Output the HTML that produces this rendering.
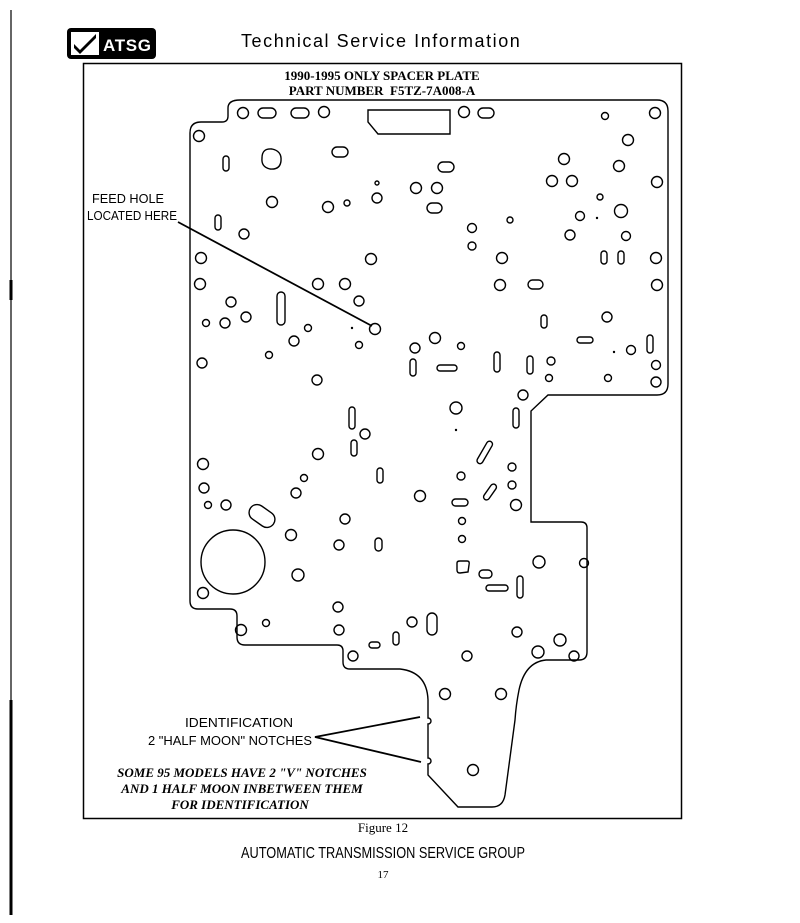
<!DOCTYPE html>
<html><head><style>
html,body{margin:0;padding:0;background:#fff;}
svg{display:block}
</style></head><body>
<svg width="800" height="923" viewBox="0 0 800 923" xmlns="http://www.w3.org/2000/svg">
<rect width="800" height="923" fill="#fff"/>
<line x1="11" y1="10" x2="11" y2="915" stroke="#000" stroke-width="1.2"/>
<line x1="11" y1="700" x2="11" y2="915" stroke="#000" stroke-width="3"/>
<line x1="11" y1="280" x2="11" y2="300" stroke="#000" stroke-width="3"/>
<!-- logo -->
<rect x="67" y="28" width="89" height="31" rx="4" fill="#000"/>
<rect x="71" y="32" width="28" height="23" fill="#fff"/>
<path d="M74 44 L80 50 L96 34 L96 38 L80 54 L74 48 Z" fill="#000"/>
<text x="103" y="51" font-family="Liberation Sans, sans-serif" font-weight="bold" font-size="17" fill="#fff" textLength="48">ATSG</text>
<text x="241" y="47" font-family="Liberation Sans, sans-serif" font-size="18" letter-spacing="1.2" fill="#000" textLength="280">Technical Service Information</text>
<!-- frame -->
<rect x="83.5" y="63.5" width="598" height="755" fill="none" stroke="#000" stroke-width="1.5"/>
<g font-family="Liberation Serif, serif" font-weight="bold" font-size="13" text-anchor="middle">
<text x="382" y="80">1990-1995 ONLY SPACER PLATE</text>
<text x="382" y="95">PART NUMBER&#160; F5TZ-7A008-A</text>
</g>
<!-- plate outline -->
<path d="M240 100 L657 100 Q668 100 668 111 L668 384 Q668 395 657 395 L548 395 L531 411 L531 522 L581 522 Q587 522 587 528 L587 652 Q587 660 579 660 L546 660 Q525 662 519 690 Q516 705 515 720 L505 795 Q503 807 492 807 L458 807 L428 775 L428 764 A3 3 0 0 0 428 758 L428 724 A3 3 0 0 0 428 718 L428 700 Q427 672 400 669 L350 669 Q343 669 343 662 L343 651 Q343 645 337 645 L245 645 Q237 645 237 637 L237 616 Q237 609 230 609 L198 609 Q190 609 190 601 L190 133 Q190 122 201 122 L222 122 Q228 122 228 116 L228 108 Q228 100 240 100 Z" fill="none" stroke="#000" stroke-width="1.4"/>
<g fill="none" stroke="#000" stroke-width="1.4">
<!-- top row -->
<circle cx="243" cy="113" r="5.5"/><rect x="258" y="108" width="18" height="10" rx="5"/><rect x="291" y="108" width="18" height="10" rx="5"/><circle cx="324" cy="112" r="5.5"/>
<path d="M368 110 L450 110 L450 134 L378 134 L368 122 Z"/>
<circle cx="464" cy="112" r="5.5"/><rect x="478" y="108" width="16" height="10" rx="5"/>
<circle cx="605" cy="116" r="3.5"/><circle cx="655" cy="113" r="5.5"/>
<circle cx="199" cy="136" r="5.5"/><circle cx="628" cy="140" r="5.5"/>
<rect x="223" y="156" width="6" height="15" rx="3"/>
<path d="M262 158 Q262 148 272 149 Q282 151 281 161 Q280 170 270 169 Q261 167 262 158 Z"/>
<rect x="332" y="147" width="16" height="10" rx="5"/><rect x="438" y="162" width="16" height="10" rx="5"/>
<circle cx="564" cy="159" r="5.5"/><circle cx="619" cy="166" r="5.5"/><circle cx="657" cy="182" r="5.5"/>
<circle cx="552" cy="181" r="5.5"/><circle cx="572" cy="181" r="5.5"/>
<circle cx="377" cy="183" r="2"/><circle cx="416" cy="188" r="5.5"/><circle cx="437" cy="188" r="5.5"/>
<circle cx="377" cy="198" r="5"/><circle cx="272" cy="202" r="5.5"/><circle cx="328" cy="207" r="5.5"/><circle cx="347" cy="203" r="3"/>
<rect x="427" y="203" width="15" height="10" rx="5"/><circle cx="600" cy="197" r="3"/>
<circle cx="580" cy="216" r="4.5"/><circle cx="621" cy="211" r="6.5"/><circle cx="510" cy="220" r="3"/>
<rect x="215" y="215" width="6" height="15" rx="3"/><circle cx="244" cy="234" r="5"/>
<circle cx="472" cy="228" r="4.5"/><circle cx="570" cy="235" r="5"/><circle cx="626" cy="236" r="4.5"/><circle cx="472" cy="246" r="4"/>
<circle cx="201" cy="258" r="5.5"/><circle cx="371" cy="259" r="5.5"/><circle cx="502" cy="258" r="5.5"/>
<rect x="601" y="251" width="6" height="13" rx="3"/><rect x="618" y="251" width="6" height="13" rx="3"/><circle cx="656" cy="258" r="5.5"/>
<circle cx="200" cy="284" r="5.5"/><circle cx="318" cy="284" r="5.5"/><circle cx="345" cy="284" r="5.5"/><circle cx="500" cy="285" r="5.5"/>
<rect x="528" y="280" width="15" height="9" rx="4.5"/><circle cx="657" cy="285" r="5.5"/>
<rect x="277" y="292" width="8" height="33" rx="4"/>
<circle cx="231" cy="302" r="5"/><circle cx="359" cy="301" r="5"/><circle cx="246" cy="317" r="5"/>
<circle cx="206" cy="323" r="3.5"/><circle cx="225" cy="323" r="5"/><circle cx="308" cy="328" r="3.5"/>
<circle cx="375" cy="329" r="5.5"/><rect x="541" y="315" width="6" height="13" rx="3"/><circle cx="607" cy="317" r="5"/>
<circle cx="435" cy="338" r="5.5"/><circle cx="294" cy="341" r="5"/><circle cx="359" cy="345" r="3.5"/><circle cx="415" cy="348" r="5"/>
<circle cx="461" cy="346" r="3.5"/><rect x="577" y="337" width="16" height="6" rx="3"/><rect x="647" y="335" width="6" height="18" rx="3"/><circle cx="631" cy="350" r="4.5"/>
<circle cx="269" cy="355" r="3.5"/><circle cx="202" cy="363" r="5"/>
<rect x="410" y="359" width="6" height="17" rx="3"/><rect x="437" y="365" width="20" height="6" rx="3"/>
<rect x="494" y="352" width="6" height="20" rx="3"/><rect x="527" y="356" width="6" height="18" rx="3"/>
<circle cx="551" cy="361" r="4"/><circle cx="656" cy="365" r="4.5"/>
<circle cx="317" cy="380" r="5"/><circle cx="549" cy="378" r="3.5"/><circle cx="608" cy="378" r="3.5"/><circle cx="656" cy="382" r="5"/>
<circle cx="523" cy="395" r="5"/><circle cx="456" cy="408" r="6"/>
<rect x="349" y="407" width="6" height="22" rx="3"/><circle cx="365" cy="434" r="5"/><rect x="513" y="408" width="6" height="20" rx="3"/>
<rect x="351" y="440" width="6" height="16" rx="3"/><circle cx="318" cy="454" r="5.5"/>
<rect x="482" y="440" width="6" height="25" rx="3" transform="rotate(30 485 452)"/>
<circle cx="203" cy="464" r="5.5"/><rect x="377" y="468" width="6" height="15" rx="3"/><circle cx="461" cy="476" r="4"/><circle cx="512" cy="467" r="4"/>
<circle cx="304" cy="478" r="3.5"/><circle cx="512" cy="485" r="4"/><circle cx="204" cy="488" r="5"/>
<rect x="487" y="483" width="6" height="18" rx="3" transform="rotate(35 490 492)"/>
<circle cx="296" cy="493" r="5"/><circle cx="420" cy="496" r="5.5"/><rect x="452" y="499" width="16" height="7" rx="3.5"/><circle cx="516" cy="505" r="5.5"/>
<circle cx="208" cy="505" r="3.5"/><circle cx="226" cy="505" r="5"/>
<rect x="248" y="508" width="28" height="16" rx="8" transform="rotate(35 262 516)"/>
<circle cx="462" cy="521" r="3.5"/><circle cx="345" cy="519" r="5"/><circle cx="291" cy="535" r="5.5"/>
<circle cx="339" cy="545" r="5"/><rect x="375" y="538" width="7" height="13" rx="3.5"/><circle cx="462" cy="539" r="3.5"/>
<circle cx="539" cy="562" r="6"/><circle cx="584" cy="563" r="4.5"/>
<circle cx="233" cy="562" r="32"/><circle cx="298" cy="575" r="6"/>
<path d="M457 563 Q457 561 460 561 L467 561 Q470 561 469 565 L468 572 L460 573 Q457 573 457 570 Z"/>
<rect x="479" y="570" width="13" height="8" rx="4"/><rect x="486" y="585" width="22" height="6" rx="3"/><rect x="517" y="576" width="6" height="22" rx="3"/>
<circle cx="203" cy="593" r="5.5"/><circle cx="338" cy="607" r="5"/>
<circle cx="241" cy="630" r="5.5"/><circle cx="266" cy="623" r="3.5"/><circle cx="412" cy="622" r="5"/>
<rect x="427" y="613" width="10" height="22" rx="5"/><circle cx="339" cy="630" r="5"/>
<rect x="393" y="632" width="6" height="13" rx="3"/><rect x="369" y="642" width="11" height="6" rx="3"/>
<circle cx="517" cy="632" r="5"/><circle cx="560" cy="640" r="6"/>
<circle cx="353" cy="656" r="5"/><circle cx="467" cy="656" r="5"/><circle cx="538" cy="652" r="6"/><circle cx="574" cy="656" r="5"/>
<circle cx="445" cy="694" r="5.5"/><circle cx="501" cy="694" r="5.5"/><circle cx="473" cy="770" r="5.5"/>
</g>
<g fill="#000"><circle cx="352" cy="328" r="1.2"/><circle cx="456" cy="430" r="1.2"/><circle cx="597" cy="218" r="1.2"/><circle cx="614" cy="352" r="1.2"/></g>
<!-- leaders -->
<g stroke="#000" stroke-width="1.8" fill="none">
<path d="M178 222 L372 326"/>
<path d="M420 717 L315 737 L421 762"/>
</g>
<g font-family="Liberation Sans Narrow, Liberation Sans, sans-serif" font-size="12.5" fill="#000">
<text x="92" y="203" textLength="72" lengthAdjust="spacingAndGlyphs">FEED HOLE</text>
<text x="87" y="220" textLength="90" lengthAdjust="spacingAndGlyphs">LOCATED HERE</text>
<text x="185" y="727" textLength="108" lengthAdjust="spacingAndGlyphs">IDENTIFICATION</text>
<text x="148" y="745" textLength="164" lengthAdjust="spacingAndGlyphs">2 "HALF MOON" NOTCHES</text>
</g>
<g font-family="Liberation Serif, serif" font-weight="bold" font-style="italic" font-size="13" text-anchor="middle">
<text x="242" y="777">SOME 95 MODELS HAVE 2 "V" NOTCHES</text>
<text x="242" y="793">AND 1 HALF MOON INBETWEEN THEM</text>
<text x="240" y="809">FOR IDENTIFICATION</text>
</g>
<text x="383" y="832" font-family="Liberation Serif, serif" font-size="13" text-anchor="middle">Figure 12</text>
<text x="383" y="858" font-family="Liberation Sans Narrow, Liberation Sans, sans-serif" font-size="16" text-anchor="middle" textLength="284" lengthAdjust="spacingAndGlyphs">AUTOMATIC TRANSMISSION SERVICE GROUP</text>
<text x="383" y="878" font-family="Liberation Serif, serif" font-size="11" text-anchor="middle">17</text>
</svg>
</body></html>
